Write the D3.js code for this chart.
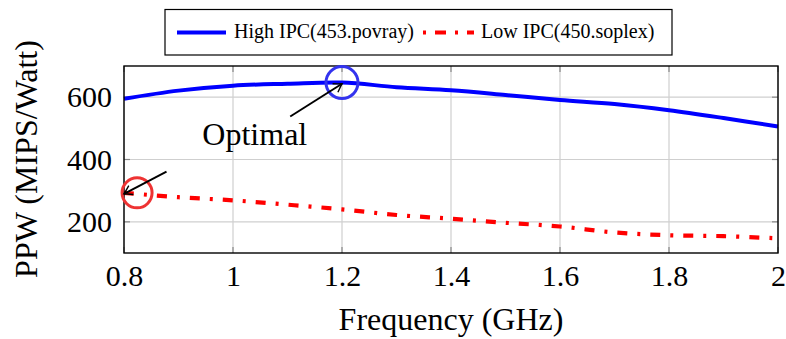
<!DOCTYPE html>
<html><head><meta charset="utf-8">
<script src="https://cdn.jsdelivr.net/npm/d3@7"></script>
</head><body style="margin:0"><svg id="c" width="786" height="339"></svg>
<script>
const freqs = [0.8,0.9,1.0,1.1,1.2,1.3,1.4,1.5,1.6,1.7,1.8,1.9,2.0];
const highIPC = [595,621,637,643,647,632,622,607,591,578,558,533,506];
const lowIPC = [293,279,269,255,240,222,210,197,185,166,157,154,147];
const xTicks = [0.8,1.0,1.2,1.4,1.6,1.8,2.0];
const xTickLabels = ["0.8","1","1.2","1.4","1.6","1.8","2"];
const yTicks = [200,400,600];
const seriesNames = ["High IPC(453.povray)","Low IPC(450.soplex)"];
const FONT = "'Liberation Serif'";

const svg = d3.select("#c");
const m = {l:124, r:778, t:66, b:253};
const x = d3.scaleLinear().domain([0.8,2.0]).range([m.l,m.r]);
const y = d3.scaleLinear().domain([100,700]).range([m.b,m.t]);

// grid
const g = svg.append("g");
g.selectAll(".gx").data(xTicks).join("line").attr("x1",d=>x(d)).attr("x2",d=>x(d)).attr("y1",m.t).attr("y2",m.b).attr("stroke","#cfcfcf").attr("stroke-width",1.2);
g.selectAll(".gy").data(yTicks).join("line").attr("y1",d=>y(d)).attr("y2",d=>y(d)).attr("x1",m.l).attr("x2",m.r).attr("stroke","#cfcfcf").attr("stroke-width",1.2);
xTicks.forEach(t=>{
  g.append("line").attr("x1",x(t)).attr("x2",x(t)).attr("y1",m.b).attr("y2",m.b-6).attr("stroke","#888").attr("stroke-width",1.2);
  g.append("line").attr("x1",x(t)).attr("x2",x(t)).attr("y1",m.t).attr("y2",m.t+6).attr("stroke","#888").attr("stroke-width",1.2);
});
yTicks.forEach(t=>{
  g.append("line").attr("y1",y(t)).attr("y2",y(t)).attr("x1",m.l).attr("x2",m.l+6).attr("stroke","#888").attr("stroke-width",1.2);
  g.append("line").attr("y1",y(t)).attr("y2",y(t)).attr("x1",m.r).attr("x2",m.r-6).attr("stroke","#888").attr("stroke-width",1.2);
});

const xAxis = d3.axisBottom(x).tickValues(xTicks).tickFormat((d,i)=>xTickLabels[i]).tickSize(0).tickPadding(12);
const ax = svg.append("g").attr("transform",`translate(0,${m.b})`).call(xAxis);
ax.select(".domain").remove();
ax.attr("font-family",null).attr("font-size",null);
ax.selectAll("text").attr("fill","#000").style("font-family",FONT).style("font-size","30px");
const yAxis = d3.axisLeft(y).tickValues(yTicks).tickSize(0).tickPadding(12);
const ay = svg.append("g").attr("transform",`translate(${m.l},0)`).call(yAxis);
ay.select(".domain").remove();
ay.attr("font-family",null).attr("font-size",null);
ay.selectAll("text").attr("fill","#000").style("font-family",FONT).style("font-size","30px");

const line = d3.line().x((d,i)=>x(freqs[i])).y(d=>y(d)).curve(d3.curveCatmullRom.alpha(0.5));
svg.append("path").datum(highIPC).attr("d",line).attr("fill","none").attr("stroke","#0000ff").attr("stroke-width",4);
svg.append("path").datum(lowIPC).attr("d",line).attr("fill","none").attr("stroke","#ff0000").attr("stroke-width",4.2).attr("stroke-dasharray","10,10,3,10");

svg.append("rect").attr("x",m.l).attr("y",m.t).attr("width",m.r-m.l).attr("height",m.b-m.t).attr("fill","none").attr("stroke","#000").attr("stroke-width",1.4);

const defs = svg.append("defs");
defs.append("marker").attr("id","ah").attr("viewBox","-10 -6 12 12").attr("refX",0).attr("refY",0).attr("markerWidth",12).attr("markerHeight",12).attr("markerUnits","userSpaceOnUse").attr("orient","auto")
  .append("path").attr("d","M-8,-5 Q-2,-1 0,0 Q-2,1 -8,5").attr("fill","none").attr("stroke","#000").attr("stroke-width",1.4);
svg.append("circle").attr("cx",x(1.2)).attr("cy",y(647)).attr("r",16).attr("fill","none").attr("stroke","#3333ee").attr("stroke-width",3);
svg.append("circle").attr("cx",x(0.824)).attr("cy",y(293)).attr("r",15).attr("fill","none").attr("stroke","#ee3333").attr("stroke-width",3);
svg.append("line").attr("x1",x(1.105)).attr("y1",y(538)).attr("x2",x(1.2)).attr("y2",y(643)).attr("stroke","#000").attr("stroke-width",2).attr("marker-end","url(#ah)");
svg.append("line").attr("x1",x(0.878)).attr("y1",y(361)).attr("x2",x(0.8)).attr("y2",y(290)).attr("stroke","#000").attr("stroke-width",2).attr("marker-end","url(#ah)");
svg.append("text").attr("x",x(1.04)).attr("y",y(445)).attr("text-anchor","middle").style("font-family",FONT).style("font-size","32px").text("Optimal");

svg.append("text").attr("x",451).attr("y",330).attr("text-anchor","middle").style("font-family",FONT).style("font-size","32px").text("Frequency (GHz)");
svg.append("text").attr("transform",`translate(37,159) rotate(-90)`).attr("text-anchor","middle").style("font-family",FONT).style("font-size","32px").text("PPW (MIPS/Watt)");

const lg = svg.append("g");
lg.append("rect").attr("x",165).attr("y",9.5).attr("width",507).attr("height",45.5).attr("fill","#fff").attr("stroke","#000").attr("stroke-width",1.2);
lg.append("line").attr("x1",177).attr("x2",226).attr("y1",32.5).attr("y2",32.5).attr("stroke","#0000ff").attr("stroke-width",4);
lg.append("text").attr("x",234).attr("y",38).style("font-family",FONT).style("font-size","20px").text(seriesNames[0]);
lg.append("line").attr("x1",423).attr("x2",474).attr("y1",32.5).attr("y2",32.5).attr("stroke","#ff0000").attr("stroke-width",4).attr("stroke-dasharray","3,9,11,9");
lg.append("text").attr("x",481).attr("y",38).style("font-family",FONT).style("font-size","20px").text(seriesNames[1]);
</script></body></html>
